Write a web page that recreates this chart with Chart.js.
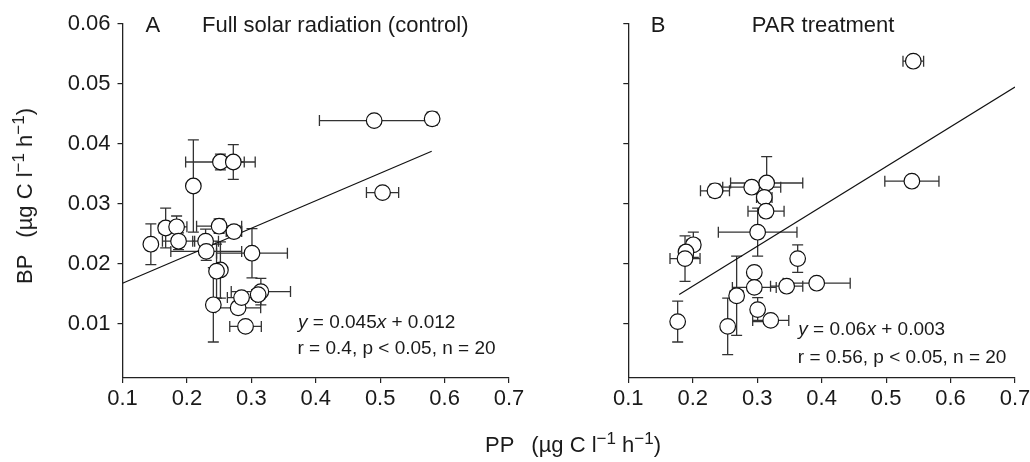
<!DOCTYPE html>
<html><head><meta charset="utf-8">
<script src="https://cdn.jsdelivr.net/npm/chart.js@4.4.0/dist/chart.umd.min.js"></script>
<style>
html,body{margin:0;padding:0;background:#fff;overflow:hidden;width:1030px;height:462px;}
#wrap{position:relative;width:1030px;height:462px;overflow:hidden;font-family:"Liberation Sans",Arial,sans-serif;color:#1a1a1a;}
canvas{position:absolute;top:0;}
#cA{left:0;} #cB{left:530px;}
.ttl{position:absolute;font-size:22px;white-space:nowrap;line-height:22px;}
.ttl sup{font-size:17px;vertical-align:baseline;position:relative;top:-8px;}
.gap{display:inline-block;width:17px;}
#xt{left:573px;top:434px;transform:translateX(-50%);}
#yt{left:26px;top:196px;transform:translate(-50%,-50%) rotate(-90deg);}
</style></head>
<body>
<div id="wrap">
<canvas id="cA" width="545" height="462"></canvas>
<canvas id="cB" width="510" height="462"></canvas>
<div class="ttl" id="xt">PP<span class="gap"></span>(µg C l<sup>−1</sup> h<sup>−1</sup>)</div>
<div class="ttl" id="yt">BP<span class="gap"></span>(µg C l<sup>−1</sup> h<sup>−1</sup>)</div>
</div>
<script>
// ---- axis ticks ----
const xTicks = [0.1, 0.2, 0.3, 0.4, 0.5, 0.6, 0.7];
const xTickLabels = ['0.1', '0.2', '0.3', '0.4', '0.5', '0.6', '0.7'];
const yTicks = [0.01, 0.02, 0.03, 0.04, 0.05, 0.06];
const yTickLabels = ['0.01', '0.02', '0.03', '0.04', '0.05', '0.06'];

// ---- Panel A: Full solar radiation (control) ----
const ppA    = [0.252, 0.272, 0.210, 0.144, 0.167, 0.184, 0.187, 0.229, 0.230, 0.250, 0.273, 0.301, 0.252, 0.246, 0.241, 0.2795, 0.2848, 0.3148, 0.3106, 0.291, 0.4907, 0.5807, 0.5037];
const bpA    = [0.0370, 0.0370, 0.0330, 0.0233, 0.0260, 0.0262, 0.0238, 0.0238, 0.0221, 0.0263, 0.0254, 0.0218, 0.0190, 0.0188, 0.0132, 0.0127, 0.0144, 0.0154, 0.0149, 0.0096, 0.0439, 0.0442, 0.0319];
const ppErrA = [0.054, 0.017, 0.000, 0.005, 0.010, 0.016, 0.025, 0.020, 0.055, 0.035, 0.012, 0.055, 0.003, 0.003, 0.008, 0.035, 0.022, 0.046, 0.010, 0.0245, 0.085, 0.005, 0.025];
const bpErrA = [0.0013, 0.0029, 0.0077, 0.0034, 0.0033, 0.0018, 0.0014, 0.0020, 0.0015, 0.0012, 0.0010, 0.0041, 0.0047, 0.0045, 0.0062, 0.0010, 0.0010, 0.0022, 0.0010, 0.0005, 0.0005, 0.0011, 0.0005];
const regXA = [0.1, 0.58];
const regYA = [0.0168, 0.0388];

// ---- Panel B: PAR treatment ----
const ppB    = [0.540, 0.2345, 0.2915, 0.3147, 0.311, 0.3137, 0.3007, 0.2009, 0.1895, 0.188, 0.3628, 0.2955, 0.2955, 0.3457, 0.3923, 0.2681, 0.3007, 0.321, 0.1766, 0.2542, 0.5422];
const bpB    = [0.0338, 0.0322, 0.0328, 0.0335, 0.0311, 0.0288, 0.0253, 0.0232, 0.0220, 0.0209, 0.0209, 0.0186, 0.0161, 0.0163, 0.0168, 0.0147, 0.0124, 0.0106, 0.0104, 0.0096, 0.0538];
const ppErrB = [0.042, 0.0225, 0.045, 0.056, 0.012, 0.028, 0.061, 0.010, 0.010, 0.0233, 0.003, 0.003, 0.034, 0.025, 0.052, 0.010, 0.005, 0.028, 0.002, 0.003, 0.016];
const bpErrB = [0.0005, 0.0011, 0.0010, 0.0044, 0.0010, 0.0010, 0.0040, 0.0021, 0.0010, 0.0038, 0.0023, 0.0010, 0.0010, 0.0005, 0.0005, 0.0066, 0.0020, 0.0005, 0.0034, 0.0047, 0.0005];
const regXB = [0.179, 0.7];
const regYB = [0.0149, 0.0495];

const FONT = '"Liberation Sans", Arial, sans-serif';
const INK = '#1a1a1a';

const errPlugin = {
  id: 'errbars',
  beforeDatasetsDraw(chart) {
    const ds = chart.data.datasets[0];
    const xs = chart.scales.x, ys = chart.scales.y, ctx = chart.ctx;
    const cap = 5.5;
    ctx.save();
    ctx.strokeStyle = '#333';
    ctx.lineWidth = 1.3;
    ds.data.forEach((p, i) => {
      const px = xs.getPixelForValue(p.x), py = ys.getPixelForValue(p.y);
      const ex = ds.xErr[i], ey = ds.yErr[i];
      ctx.beginPath();
      if (ex > 0) {
        const l = xs.getPixelForValue(p.x - ex), r = xs.getPixelForValue(p.x + ex);
        ctx.moveTo(l, py); ctx.lineTo(r, py);
        ctx.moveTo(l, py - cap); ctx.lineTo(l, py + cap);
        ctx.moveTo(r, py - cap); ctx.lineTo(r, py + cap);
      }
      if (ey > 0) {
        const t = ys.getPixelForValue(p.y + ey), b = ys.getPixelForValue(p.y - ey);
        ctx.moveTo(px, t); ctx.lineTo(px, b);
        ctx.moveTo(px - cap, t); ctx.lineTo(px + cap, t);
        ctx.moveTo(px - cap, b); ctx.lineTo(px + cap, b);
      }
      ctx.stroke();
    });
    ctx.restore();
  }
};

const textPlugin = {
  id: 'panelText',
  afterDraw(chart, args, opts) {
    const ctx = chart.ctx, a = chart.chartArea;
    ctx.save();
    ctx.fillStyle = INK;
    ctx.textBaseline = 'alphabetic';
    ctx.textAlign = 'left';
    (opts.items || []).forEach(it => {
      let x = a.left + it.dx;
      const y = a.top + it.dy;
      it.segs.forEach(s => {
        ctx.font = (s[1] ? 'italic ' : '') + it.size + 'px ' + FONT;
        ctx.fillText(s[0], x, y);
        x += ctx.measureText(s[0]).width;
      });
    });
    ctx.restore();
  }
};

function makeChart(id, pp, bp, ppErr, bpErr, regX, regY, showYLabels, yAxisWidth, rightPad, texts) {
  return new Chart(document.getElementById(id), {
    type: 'scatter',
    data: {
      datasets: [
        {
          data: pp.map((x, i) => ({ x: x, y: bp[i] })),
          xErr: ppErr, yErr: bpErr,
          pointRadius: 7.8, pointHoverRadius: 7.8,
          pointBackgroundColor: '#fff', pointBorderColor: '#111', pointBorderWidth: 1.2,
          showLine: false
        },
        {
          type: 'line',
          data: regX.map((x, i) => ({ x: x, y: regY[i] })),
          borderColor: '#111', borderWidth: 1.2, pointRadius: 0, fill: false, tension: 0
        }
      ]
    },
    options: {
      responsive: false, animation: false, devicePixelRatio: 1,
      layout: { padding: { top: 24, right: rightPad, bottom: 0, left: 0 } },
      plugins: { legend: { display: false }, tooltip: { enabled: false }, panelText: { items: texts } },
      scales: {
        x: {
          type: 'linear', min: 0.1, max: 0.7,
          afterBuildTicks: s => { s.ticks = xTicks.map(v => ({ value: v })); },
          afterFit: s => { s.height = 84; },
          grid: { display: true, drawOnChartArea: false, drawTicks: true, tickLength: 5, color: '#222', lineWidth: 1.2 },
          border: { display: true, color: '#222', width: 1.3 },
          ticks: { padding: 3, color: INK, font: { family: FONT, size: 22 }, maxRotation: 0, autoSkip: false,
                   callback: (v, i) => xTickLabels[i] }
        },
        y: {
          type: 'linear', min: 0.001, max: 0.06,
          afterBuildTicks: s => { s.ticks = yTicks.map(v => ({ value: v })); },
          afterFit: s => { s.width = yAxisWidth; },
          grid: { display: true, drawOnChartArea: false, drawTicks: true, tickLength: 5, color: '#222', lineWidth: 1.2 },
          border: { display: true, color: '#222', width: 1.3 },
          ticks: { display: showYLabels, padding: 7, color: INK, font: { family: FONT, size: 22 }, autoSkip: false,
                   callback: (v, i) => yTickLabels[i] }
        }
      }
    },
    plugins: [errPlugin, textPlugin]
  });
}

makeChart('cA', ppA, bpA, ppErrA, bpErrA, regXA, regYA, true, 122.5, 36, [
  { dx: 23, dy: 7.7, size: 22, segs: [['A']] },
  { dx: 79.5, dy: 7.7, size: 22, segs: [['Full solar radiation (control)']] },
  { dx: 175.5, dy: 304, size: 19, segs: [['y', 1], [' = 0.045'], ['x', 1], [' + 0.012']] },
  { dx: 175, dy: 330, size: 19, segs: [['r = 0.4, p < 0.05, n = 20']] }
]);
makeChart('cB', ppB, bpB, ppErrB, bpErrB, regXB, regYB, false, 98.3, 25, [
  { dx: 22.5, dy: 7.7, size: 22, segs: [['B']] },
  { dx: 123.5, dy: 7.7, size: 22, segs: [['PAR treatment']] },
  { dx: 170, dy: 310.7, size: 19, segs: [['y', 1], [' = 0.06'], ['x', 1], [' + 0.003']] },
  { dx: 169.5, dy: 338.7, size: 19, segs: [['r = 0.56, p < 0.05, n = 20']] }
]);
</script>
</body></html>
